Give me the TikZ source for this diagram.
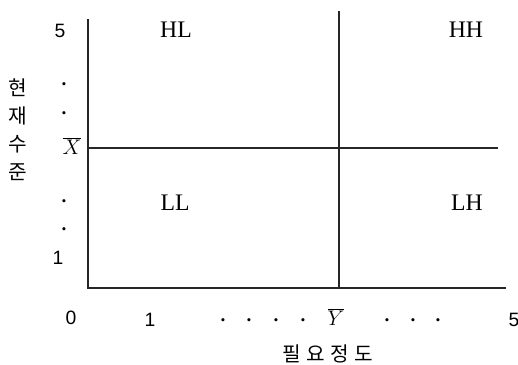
\documentclass[tikz,border=0pt]{standalone}
\usepackage{fontspec}
\setmainfont{Liberation Serif}
\newfontfamily\kofont{Noto Sans CJK KR}
\newfontfamily\numfont{Liberation Sans}
\usetikzlibrary{positioning}

\begin{document}
\begin{tikzpicture}[
    x=0.02cm, y=-0.02cm,
    axisline/.style={line width=0.7pt, black!85},
    quadlabel/.style={font=\fontsize{13.5}{15}\selectfont, inner sep=0pt},
    barlabel/.style={font=\fontsize{13}{15}\selectfont, inner sep=0pt},
    ticklabel/.style={font=\numfont\fontsize{11}{13}\selectfont, inner sep=0pt},
    dotlabel/.style={font=\fontsize{11}{13}\selectfont\bfseries, inner sep=0pt},
    axistitle/.style={font=\kofont\fontsize{11.5}{13}\selectfont, inner sep=0pt, align=center},
]
\useasboundingbox (0,0) rectangle (518,365);

% Axes
\coordinate (origin) at (88,288);
\coordinate (ytop) at (88,19);
\coordinate (xend) at (506,288);
\coordinate (vtop) at (339,11);
\coordinate (vbot) at (339,288);
\coordinate (hleft) at (88,148);
\coordinate (hright) at (498,148);
\draw[axisline] (ytop) -- (origin) -- (xend);
\draw[axisline] (vtop) -- (vbot);
\draw[axisline] (hleft) -- (hright);

% Quadrants
\node[quadlabel] (hl) at (176,30) {HL};
\node[quadlabel] (hh) at (466,30) {HH};
\node[quadlabel] (ll) at (175,203) {LL};
\node[quadlabel] (lh) at (467,203) {LH};

% Vertical scale
\node[ticklabel] (yfive) at (60,31) {5};
\node[dotlabel] (yd1) at (64,84) {.};
\node[dotlabel] (yd2) at (64,113) {.};
\node[barlabel] (xbar) at (72,146) {$\overline{X}$};
\node[dotlabel] (yd3) at (64,201) {.};
\node[dotlabel] (yd4) at (64,229) {.};
\node[ticklabel] (yone) at (58,258) {1};
\node[ticklabel] (yzero) at (71,318) {0};
\node[axistitle] (ytitle) at (18,130) {현\\[3pt]재\\[3pt]수\\[3pt]준};

% Horizontal scale
\node[ticklabel] (xone) at (150,320) {1};
\foreach \px/\nm in {223/a, 249/b, 276/c, 303/d, 387/e, 413/f, 438/g}
    \node[dotlabel] (xd\nm) at (\px,320) {.};
\node[barlabel] (ybar) at (336,317) {$\overline{Y}$};
\node[ticklabel] (xfive) at (514,320) {5};
\node[axistitle] (xtitle) at (328,354) {필\hspace{3pt}요\hspace{3pt}정\hspace{3pt}도};
\end{tikzpicture}
\end{document}
